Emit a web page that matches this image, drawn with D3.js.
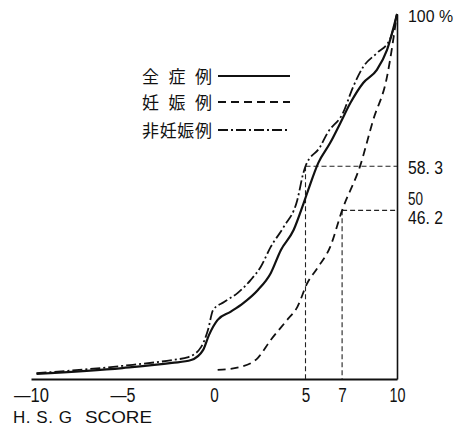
<!DOCTYPE html>
<html>
<head>
<meta charset="utf-8">
<script src="https://cdn.jsdelivr.net/npm/d3@7"></script>
<style>
  body { margin: 0; background: #fff; }
  .num { font-family: "Liberation Sans", Arial, sans-serif; }
</style>
</head>
<body>
<script>
const width = 457, height = 430

// H.S.G score vs cumulative %
const allCases = [
  [-9.7, 1.4], [-5.0, 3.0], [-2.3, 4.4], [-1.25, 5.2], [-0.6, 7.9], [-0.27, 12.1],
  [0.2, 16.2], [0.9, 18.4], [1.6, 20.8], [2.4, 24.4], [3.1, 29.0], [3.65, 35.3],
  [4.35, 40.8], [4.9, 48.2], [5.15, 51.8], [5.7, 59.2], [6.35, 64.7], [6.9, 70.1],
  [7.45, 75.6], [8.15, 81.1], [8.9, 84.7], [9.45, 90.1], [10, 100]
]
const pregnant = [
  [0.2, 2.5], [1.45, 3.3], [2.4, 5.8], [3.1, 10.7], [4.0, 16.2], [4.55, 19.7],
  [5.1, 26.3], [5.65, 30.4], [6.35, 36.2], [7.0, 46.2], [8.0, 58.6], [8.7, 71.0],
  [9.45, 82.7], [10, 100]
]
const nonPregnant = [
  [-9.7, 1.6], [-5.0, 3.6], [-2.3, 5.2], [-1.4, 6.0], [-0.7, 8.8], [-0.33, 13.4],
  [-0.05, 18.9], [0.55, 21.1], [1.3, 23.6], [2.0, 27.1], [2.55, 30.7], [3.1, 36.2],
  [3.8, 41.6], [4.55, 49.0], [4.88, 56.4], [5.0, 58.3], [5.8, 63.6], [6.2, 67.4],
  [7.05, 72.9], [7.6, 80.0], [8.15, 85.5], [8.9, 89.3], [9.6, 92.9], [10, 100]
]

const xTicks = [-10, -5, 0, 5, 7, 10]
const xTickLabels = ["—10", "—5", "0", "5", "7", "10"]
const yTicks = [100, 58.3, 50, 46.2]
const yTickLabels = ["100 %", "58. 3", "50", "46. 2"]

// guide lines: [score, percent]
const guides = [[5, 58.3], [7, 46.2]]

const legendNames = ["全症例", "妊娠例", "非妊娠例"]

const svg = d3.select('body').append('svg')
    .attr('width', width)
    .attr('height', height)

const x = d3.scaleLinear().domain([-10, 10]).range([31, 397])
const y = d3.scaleLinear().domain([0, 100]).range([379, 14])

// bottom axis (no ticks, just labels), glyphs squeezed to the narrow look
const xLabelW = [35, 25, 8.5, 8.5, 8.5, 16]
const xAxis = svg.append('g')
    .attr('transform', 'translate(0,' + y(0) + ')')
    .call(d3.axisBottom(x).tickValues(xTicks).tickSize(0)
        .tickFormat((d, i) => xTickLabels[i]))
xAxis.select('.domain').attr('stroke', '#111').attr('stroke-width', 2)
xAxis.selectAll('text').attr('class', 'num').attr('font-size', 20).attr('fill', '#111')
    .attr('y', 23).attr('dy', 0)
    .attr('textLength', (d, i) => xLabelW[i])
    .attr('lengthAdjust', 'spacingAndGlyphs')

// right axis
const yOff = { 100: 7, 58.3: 7, 50: 7.5, 46.2: 13 }
const yLabelW = [45, 35, 15, 35]
const yAxis = svg.append('g')
    .attr('transform', 'translate(' + x(10) + ',0)')
    .call(d3.axisRight(y).tickValues(yTicks).tickSize(0)
        .tickFormat((d, i) => yTickLabels[i]))
yAxis.select('.domain').attr('stroke', '#111').attr('stroke-width', 1.6)
yAxis.selectAll('text').attr('class', 'num').attr('fill', '#111')
    .attr('font-size', d => d == 100 ? 16 : 18)
    .attr('x', 11).attr('dy', d => yOff[d])
    .attr('textLength', (d, i) => yLabelW[i])
    .attr('lengthAdjust', 'spacingAndGlyphs')

// guide dashed lines
guides.forEach(g => {
    svg.append('line')
        .attr('x1', x(g[0])).attr('x2', x(10))
        .attr('y1', y(g[1])).attr('y2', y(g[1]))
        .attr('stroke', '#222').attr('stroke-width', 1.1).attr('stroke-dasharray', '5,3')
    svg.append('line')
        .attr('x1', x(g[0])).attr('x2', x(g[0]))
        .attr('y1', y(g[1])).attr('y2', y(0))
        .attr('stroke', '#222').attr('stroke-width', 1.1).attr('stroke-dasharray', '5,3')
})

const line = d3.line()
    .x(d => x(d[0]))
    .y(d => y(d[1]))
    .curve(d3.curveMonotoneX)

const styles = [
    { data: allCases, width: 2.2, dash: null },
    { data: pregnant, width: 1.8, dash: '8,5' },
    { data: nonPregnant, width: 1.8, dash: '10,3,2,3' }
]

styles.forEach(s => {
    svg.append('path')
        .datum(s.data)
        .attr('d', line)
        .attr('fill', 'none')
        .attr('stroke', '#111')
        .attr('stroke-width', s.width)
        .attr('stroke-dasharray', s.dash)
})

// legend
const legendY = [77, 103, 131]
legendNames.forEach((name, i) => {
    svg.append('text')
        .attr('x', 142)
        .attr('y', legendY[i] + 6)
        .attr('font-family', '"Noto Sans CJK JP", sans-serif')
        .attr('font-size', 17)
        .attr('fill', '#111')
        .attr('textLength', 70)
        .attr('lengthAdjust', 'spacing')
        .text(name)
    svg.append('line')
        .attr('x1', 218).attr('x2', 290)
        .attr('y1', legendY[i] - 1).attr('y2', legendY[i] - 1)
        .attr('stroke', '#111')
        .attr('stroke-width', styles[i].width)
        .attr('stroke-dasharray', styles[i].dash)
})

// axis title
const title = svg.append('text')
    .attr('y', 423)
    .attr('font-family', '"Liberation Sans", Arial, sans-serif')
    .attr('font-size', 17)
    .attr('fill', '#111')
title.append('tspan').attr('x', 13).attr('textLength', 59).attr('lengthAdjust', 'spacing').text('H. S. G')
title.append('tspan').attr('x', 85).attr('textLength', 67).attr('lengthAdjust', 'spacingAndGlyphs').text('SCORE')
</script>
</body>
</html>
